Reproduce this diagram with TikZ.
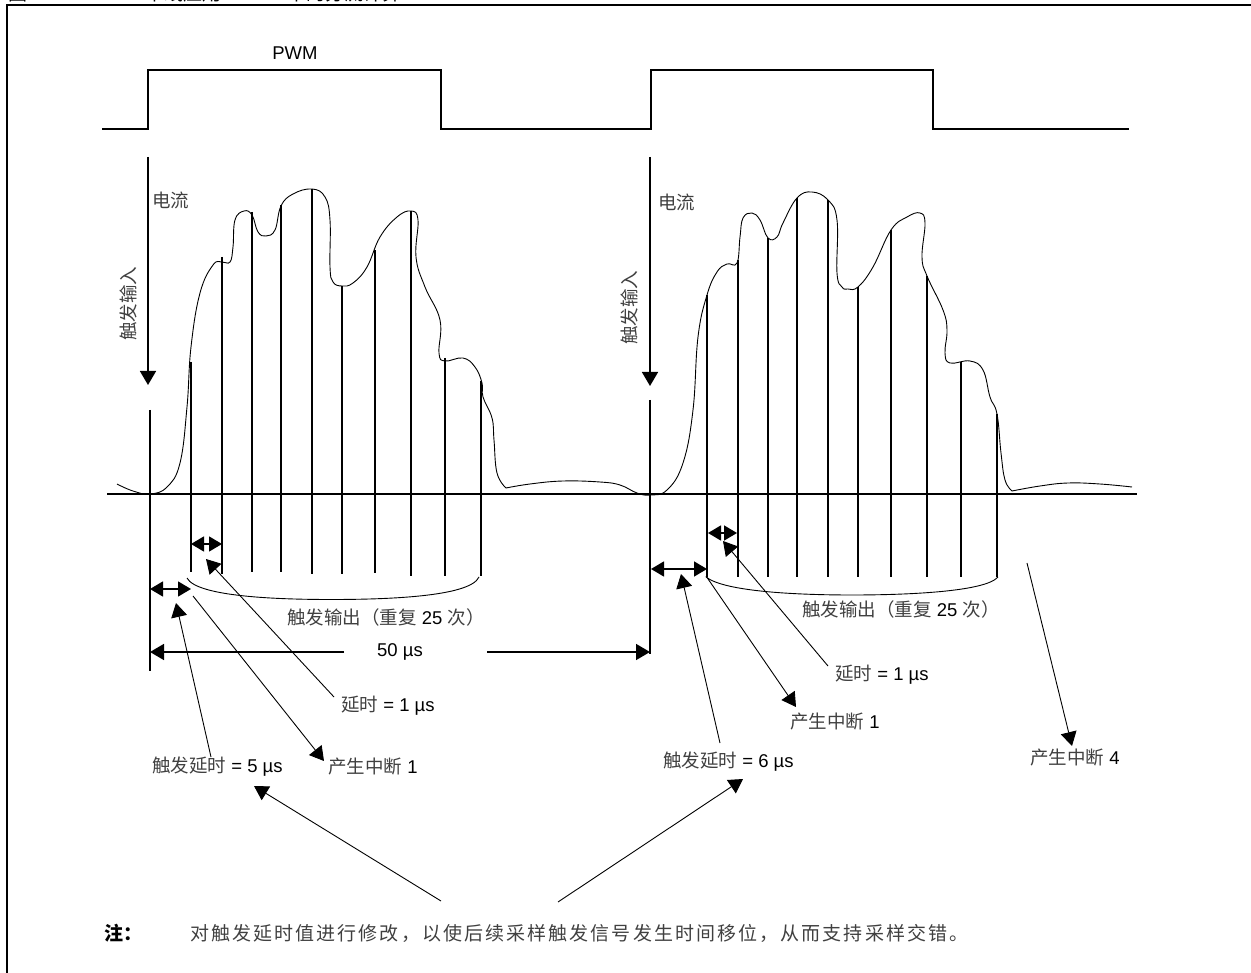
\documentclass[tikz,border=0pt]{standalone}
\usepackage{fontspec}
\setmainfont{Liberation Sans}
\newfontfamily\cjk{Noto Sans CJK SC}
\newfontfamily\cjkw[LetterSpace=11]{Noto Sans CJK SC}
\usetikzlibrary{arrows.meta}
\definecolor{cjkgray}{gray}{0.25}
\newcommand{\zh}[1]{{\cjk\color{cjkgray}#1}}
\tikzset{
  thick line/.style={line width=1.6pt,line cap=butt},
  wave/.style={line width=0.9pt,smooth,tension=0.7},
  sample/.style={line width=1.5pt},
  solid tip/.style={-{Triangle[length=14pt,width=16pt]}},
  big arrow/.style={line width=1.6pt,solid tip},
  thin arrow/.style={line width=0.9pt,solid tip},
  dim arrow/.style={line width=1.5pt,{Triangle[length=13pt,width=15pt]}-{Triangle[length=13pt,width=15pt]}},
  brace arc/.style={line width=0.9pt},
  label/.style={font=\fontsize{18.5}{20}\selectfont,inner sep=0pt,anchor=west},
}
\begin{document}
\begin{tikzpicture}[x=1pt,y=-1pt]
\useasboundingbox (0,0) rectangle (1251,973);
\begin{scope}
\clip (0,0) rectangle (1251,5);
\node[anchor=west,inner sep=0pt,font=\fontsize{19}{21}\selectfont\cjk] (title) at (8,-6.5) {图\hspace{118pt}单线应用\hspace{66pt}中的分流计算};
\end{scope}
% frame
\draw[line width=1.6pt] (7,973) -- (7,5) -- (1251,5);
% PWM
\draw[thick line] (102,129) -- (148,129) -- (148,70) -- (441,70) -- (441,129) -- (651,129) -- (651,70) -- (933,70) -- (933,129) -- (1129,129);
\node[font=\fontsize{18.5}{20}\selectfont,inner sep=0pt] (pwm) at (295,53) {PWM};
% axis
\coordinate (axL) at (107,494); \coordinate (axR) at (1137,494);
\draw[thick line] (axL) -- (axR);
% current arrows
\coordinate (a1s) at (148,157); \coordinate (a1e) at (148,385);
\coordinate (a2s) at (650,157); \coordinate (a2e) at (650,386);
\draw[big arrow] (a1s) -- (a1e);
\draw[big arrow] (a2s) -- (a2e);
\draw[thick line] (150,410) -- (150,671);
\draw[thick line] (650,400) -- (650,654);
\node[label] (cur1) at (152,200) {\zh{电流}};
\node[label] (cur2) at (658,202) {\zh{电流}};
\node[font=\fontsize{18.5}{20}\selectfont,inner sep=0pt,rotate=90] (trig1) at (128,304) {\zh{触发输入}};
\node[font=\fontsize{18.5}{20}\selectfont,inner sep=0pt,rotate=90] (trig2) at (629,308) {\zh{触发输入}};
% waveform
\draw[wave] plot coordinates {(117,484) (133,491) (150,494) (167,487) (180,463) (187,407) (191,347) (200,293) (213,265) (222,262) (230,262) (233,247) (235,220) (244,211) (252,215) (258,232) (266,236) (275,230) (281,206) (293,194) (312,189) (325,197) (330,220) (330,267) (333,282) (342,286) (353,283) (367,267) (380,237) (397,217) (411,211) (418,220) (416,257) (425,287) (440,320) (439,353) (445,361) (463,358) (475,367) (482,383) (483,397) (492,418) (494,440) (497,473) (506,488)};
\draw[wave] plot coordinates {(506,488) (530,484) (563,481) (600,482) (620,485)  (637,493) (650,495) (667,490) (683,463) (693,410) (698,337) (707,295) (717,272) (727,264) (737,263) (740,237) (743,218) (752,213) (760,220) (768,238) (777,237) (783,223) (797,198) (812,192) (828,200) (837,220) (837,273) (842,287) (848,289) (858,287) (873,267) (891,230) (907,217) (920,213) (925,223) (922,257) (927,276) (943,310) (947,330) (945,353) (950,363) (970,361) (983,370) (990,397) (997,414) (1001,453) (1005,480) (1012,491)};
\draw[wave] plot coordinates {(1012,491) (1040,486) (1068,483) (1100,484) (1132,487)};
% samples, first burst
\foreach \x/\t/\b in {191/362/572,222/257/574,252/212/572,281/205/572,312/189/574,342/286/574,375/250/573,411/211/576,445/358/576,481/381/576}
  \draw[sample] (\x,\t) -- (\x,\b);
% samples, second burst
\foreach \x/\t/\b in {707/295/577,738/260/577,768/238/577,797/198/577,828/200/577,858/287/577,891/230/577,927/276/577,961/362/577,997/414/577}
  \draw[sample] (\x,\t) -- (\x,\b);
% brace arcs
\coordinate (b1a) at (187,578); \coordinate (b1b) at (479,577);
\coordinate (b2a) at (706,577); \coordinate (b2b) at (998,577);
\draw[brace arc] (b1a) .. controls (197,597) and (280,599.5) .. (331,599.5) .. controls (385,599.5) and (470,597) .. (b1b);
\draw[brace arc] (b2a) .. controls (725,592) and (800,595) .. (852,595) .. controls (905,595) and (985,592) .. (b2b);
\draw[line width=1.5pt] (323,599.7) -- (340,599.7);
% dimension arrows
\coordinate (d1a) at (191,544); \coordinate (d1b) at (222,544);
\coordinate (d2a) at (150,589); \coordinate (d2b) at (191,589);
\coordinate (d3a) at (708,533); \coordinate (d3b) at (737,533);
\coordinate (d4a) at (651,569); \coordinate (d4b) at (707,569);
\draw[dim arrow] (d1a) -- (d1b);
\draw[dim arrow] (d2a) -- (d2b);
\draw[dim arrow] (d3a) -- (d3b);
\draw[dim arrow] (d4a) -- (d4b);
% 50 us
\node[font=\fontsize{18.5}{20}\selectfont,inner sep=0pt] (fifty) at (400,652) {50 µs};
\coordinate (f1) at (344,652); \coordinate (f1t) at (150,652);
\coordinate (f2) at (487,652); \coordinate (f2t) at (650,652);
\draw[big arrow] (f1) -- (f1t);
\draw[big arrow] (f2) -- (f2t);
% labels
\node[label] (out1) at (287,617) {\zh{触发输出（重复} 25 \zh{次）}};
\node[label] (out2) at (802,609) {\zh{触发输出（重复} 25 \zh{次）}};
\node[label] (dl1) at (341,706) {\zh{延时} = 1 µs};
\node[label] (dl2) at (835,675) {\zh{延时} = 1 µs};
\node[label] (td5) at (152,767) {\zh{触发延时} = 5 µs};
\node[label] (td6) at (663,762) {\zh{触发延时} = 6 µs};
\node[label] (int1a) at (328,767) {\zh{产生中断} 1};
\node[label] (int1b) at (790,722) {\zh{产生中断} 1};
\node[label] (int4) at (1030,758) {\zh{产生中断} 4};
% thin leader arrows
\coordinate (l1s) at (334,697); \coordinate (l1e) at (206,559);
\coordinate (l2s) at (211,757); \coordinate (l2e) at (176,603);
\coordinate (l3s) at (193,596); \coordinate (l3e) at (324,761);
\coordinate (l4s) at (828,666); \coordinate (l4e) at (723,541);
\coordinate (l5s) at (720,743); \coordinate (l5e) at (681,574);
\coordinate (l6s) at (706,576); \coordinate (l6e) at (796,707);
\coordinate (l7s) at (1027,563); \coordinate (l7e) at (1072,746);
\coordinate (l8s) at (441,901); \coordinate (l8e) at (254,786);
\coordinate (l9s) at (558,902); \coordinate (l9e) at (743,779);
\foreach \i in {1,...,9}
  \draw[thin arrow] (l\i s) -- (l\i e);
% note
\node[label,font=\fontsize{19}{21}\selectfont\bfseries] (notehd) at (104,933) {\cjk 注：};
\node[label,font=\fontsize{19}{21}\selectfont] (note) at (190,933) {\cjkw\color{cjkgray}对触发延时值进行修改，以使后续采样触发信号发生时间移位，从而支持采样交错。};
\end{tikzpicture}
\end{document}
